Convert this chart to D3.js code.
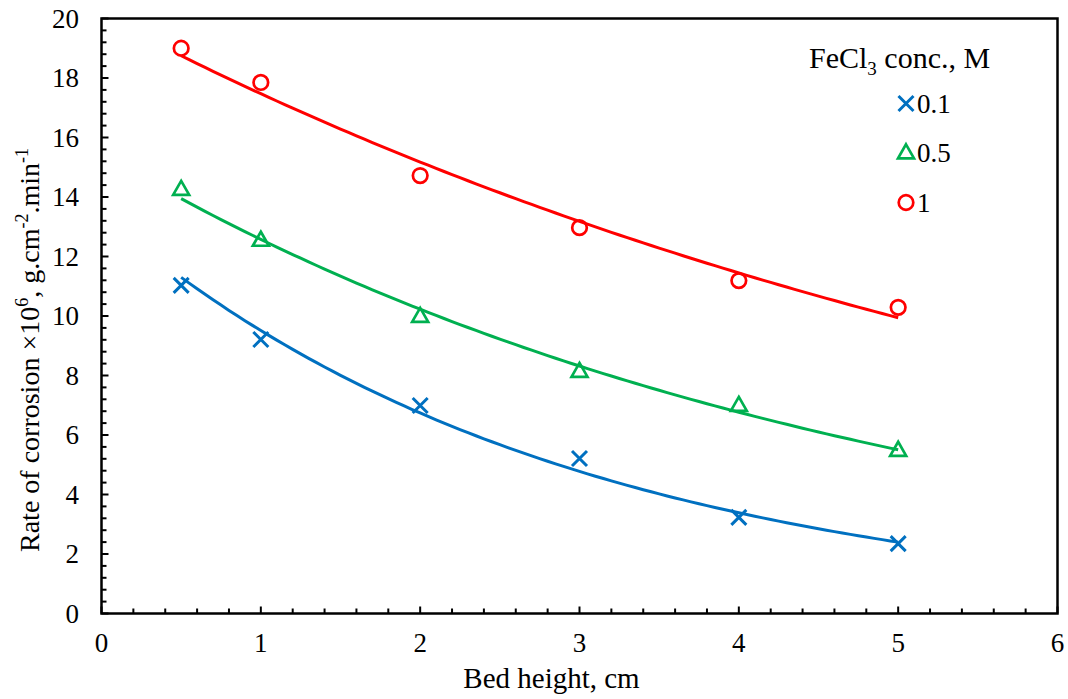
<!DOCTYPE html>
<html><head><meta charset="utf-8">
<script src="https://cdn.jsdelivr.net/npm/d3@7"></script>
<style>body{margin:0;background:#fff}svg{display:block}</style>
</head><body><svg id="c" width="1068" height="699" font-family="Liberation Serif, Times New Roman, serif"></svg>
<script>
const bedHeight = [0.5, 1, 2, 3, 4, 5];
const conc01 = [11.03, 9.21, 6.99, 5.21, 3.23, 2.35];
const conc05 = [14.25, 12.54, 9.98, 8.13, 6.99, 5.48];
const conc1 = [19.0, 17.85, 14.72, 12.97, 11.19, 10.29];
const seriesNames = ["0.1", "0.5", "1"];
const xTicks = [0, 1, 2, 3, 4, 5, 6];
const yTicks = [0, 2, 4, 6, 8, 10, 12, 14, 16, 18, 20];

const series = [
  {name: seriesNames[0], vals: conc01, color: "#0070C0", sym: "x"},
  {name: seriesNames[1], vals: conc05, color: "#00B050", sym: "tri"},
  {name: seriesNames[2], vals: conc1, color: "#FF0000", sym: "circ"}
];

const svg = d3.select("#c");
const L = 101.5, R = 1057.5, T = 18.5, B = 613.5;
const x = d3.scaleLinear().domain([0, 6]).range([L, R]);
const y = d3.scaleLinear().domain([0, 20]).range([B, T]);

// frame
svg.append("rect").attr("x", L).attr("y", T).attr("width", R - L).attr("height", B - T)
  .attr("fill", "none").attr("stroke", "#000").attr("stroke-width", 2.5);

// ticks (inside)
const xMinor = d3.range(0, 6.0001, 0.2);
svg.append("g").selectAll("line").data(xMinor).join("line")
  .attr("x1", d => x(d)).attr("x2", d => x(d))
  .attr("y1", B).attr("y2", d => Math.abs(d - Math.round(d)) < 1e-6 ? B - 7 : B - 5)
  .attr("stroke", "#000").attr("stroke-width", 2);
const yMinor = d3.range(0, 20.0001, 0.4);
svg.append("g").selectAll("line").data(yMinor).join("line")
  .attr("y1", d => y(d)).attr("y2", d => y(d))
  .attr("x1", L).attr("x2", d => Math.abs(d/2 - Math.round(d/2)) < 1e-6 ? L + 7 : L + 5)
  .attr("stroke", "#000").attr("stroke-width", 2);

// tick labels
svg.append("g").selectAll("text").data(xTicks).join("text")
  .attr("x", d => x(d)).attr("y", 652).attr("text-anchor", "middle")
  .attr("font-size", 27).text(d => d);
svg.append("g").selectAll("text").data(yTicks).join("text")
  .attr("x", 79).attr("y", d => y(d) + 9).attr("text-anchor", "end")
  .attr("font-size", 27).text(d => d);

// axis titles
svg.append("text").attr("x", 551.5).attr("y", 688).attr("text-anchor", "middle")
  .attr("font-size", 29).text("Bed height, cm");
const yt = svg.append("text").attr("transform", "translate(39,350) rotate(-90)")
  .attr("text-anchor", "middle").attr("font-size", 28);
yt.append("tspan").text("Rate of corrosion \u00d710");
yt.append("tspan").attr("font-size", 18).attr("dy", -11).text("6");
yt.append("tspan").attr("dy", 11).text(", g.cm");
yt.append("tspan").attr("font-size", 18).attr("dy", -11).text("-2");
yt.append("tspan").attr("dy", 11).text(".min");
yt.append("tspan").attr("font-size", 18).attr("dy", -11).text("-1");

// exponential trend lines via least squares on log values
function expFit(xs, ys) {
  const n = xs.length, ly = ys.map(Math.log);
  const mx = d3.mean(xs), my = d3.mean(ly);
  let sxy = 0, sxx = 0;
  for (let i = 0; i < n; i++) { sxy += (xs[i]-mx)*(ly[i]-my); sxx += (xs[i]-mx)**2; }
  const b = sxy / sxx, a = Math.exp(my - b * mx);
  return t => a * Math.exp(b * t);
}
const line = d3.line().x(d => x(d[0])).y(d => y(d[1]));
series.forEach(s => {
  const f = expFit(bedHeight, s.vals);
  const pts = d3.range(0.5, 5.0001, 0.05).map(t => [t, f(t)]);
  svg.append("path").datum(pts).attr("d", line).attr("fill", "none")
    .attr("stroke", s.color).attr("stroke-width", 3);
});

function marker(g, sym, cx, cy, color) {
  if (sym === "circ") {
    g.append("circle").attr("cx", cx).attr("cy", cy).attr("r", 7.3)
      .attr("fill", "none").attr("stroke", color).attr("stroke-width", 2.7);
  } else if (sym === "tri") {
    const h = 14, w = 16;
    g.append("path").attr("d", `M${cx},${cy - h*0.62}L${cx + w/2},${cy + h*0.38}L${cx - w/2},${cy + h*0.38}Z`)
      .attr("fill", "none").attr("stroke", color).attr("stroke-width", 2.7).attr("stroke-linejoin", "miter");
  } else {
    const r = 7.5;
    g.append("path").attr("d", `M${cx-r},${cy-r}L${cx+r},${cy+r}M${cx-r},${cy+r}L${cx+r},${cy-r}`)
      .attr("stroke", color).attr("stroke-width", 3);
  }
}
series.forEach(s => {
  const g = svg.append("g");
  bedHeight.forEach((bx, i) => marker(g, s.sym, x(bx), y(s.vals[i]), s.color));
});

// legend
const lt = svg.append("text").attr("x", 809).attr("y", 68).attr("font-size", 30);
lt.append("tspan").text("FeCl");
lt.append("tspan").attr("font-size", 19).attr("dy", 7).text("3");
lt.append("tspan").attr("dy", -7).text(" conc., M");
series.forEach((s, i) => {
  const cy = 103.5 + i * 49.5;
  marker(svg, s.sym, 906, cy, s.color);
  svg.append("text").attr("x", 917).attr("y", cy + 9).attr("font-size", 27).text(s.name);
});
</script></body></html>
